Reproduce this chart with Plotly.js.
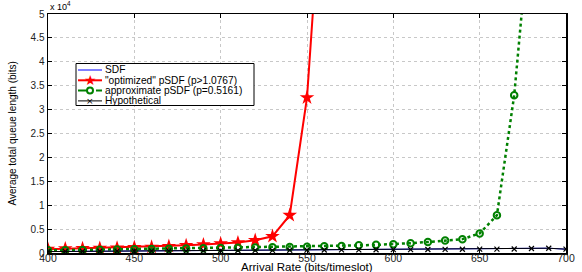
<!DOCTYPE html>
<html>
<head>
<meta charset="utf-8">
<script src="https://cdn.plot.ly/plotly-3.0.1.min.js"></script>
<style>html,body{margin:0;padding:0;background:#fff}#chart{width:582px;height:272px}</style>
</head>
<body>
<div id="chart"></div>
<script>
// Arrival rates (bits/timeslot)
const xOpt = [400,410,420,430,440,450,460,470,480,490,500,510,520,530,540,550,560];
const yOpt = [800,900,950,1000,1050,1150,1250,1400,1600,1760,1970,2180,2660,3500,7900,32500,85000];

const xApprox = [400,410,420,430,440,450,460,470,480,490,500,510,520,530,540,550,560,570,580,590,600,610,620,630,640,650,660,670,680];
const yApprox = [550,600,650,700,750,800,850,900,950,1000,1050,1100,1150,1200,1250,1300,1400,1470,1600,1700,1820,2050,2300,2600,2900,4100,7900,33000,72500];

const xHyp = [400,410,420,430,440,450,460,470,480,490,500,510,520,530,540,550,560,570,580,590,600,610,620,630,640,650,660,670,680,690,700];
const yHyp = [300,320,340,360,380,400,420,440,460,480,500,520,540,560,580,600,620,640,660,680,700,720,740,760,780,800,820,840,950,1000,800];

const xSDF = xHyp;
const ySDF = yHyp;

const seriesNames = ['SDF', '"optimized" pSDF (p&gt;1.0767)', 'approximate pSDF (p=0.5161)', 'Hypothetical'];
const seriesColors = ['#0000ff', '#ff0000', '#008000', '#000000'];

const yTickVals = [0,5000,10000,15000,20000,25000,30000,35000,40000,45000,50000];
const yTickText = ['0','0.5','1','1.5','2','2.5','3','3.5','4','4.5','5'];
const xTickVals = [400,450,500,550,600,650,700];

const traces = [
  {x:xSDF, y:ySDF, name:seriesNames[0], mode:'lines', line:{color:seriesColors[0], width:1}},
  {x:xOpt, y:yOpt, name:seriesNames[1], mode:'lines+markers',
   line:{color:seriesColors[1], width:2}, marker:{symbol:'star', size:11, color:seriesColors[1]}},
  {x:xApprox, y:yApprox, name:seriesNames[2], mode:'lines+markers',
   line:{color:seriesColors[2], width:2.5, dash:'3px,3px'},
   marker:{symbol:'circle-open', size:6.5, color:seriesColors[2], line:{width:2, color:seriesColors[2]}}},
  {x:xHyp, y:yHyp, name:seriesNames[3], mode:'lines+markers',
   line:{color:seriesColors[3], width:1},
   marker:{symbol:'x-thin-open', size:5, color:seriesColors[3], line:{width:1.2, color:seriesColors[3]}}}
];

const fam = '"Liberation Sans", Arial, Helvetica, sans-serif';

// plot-area geometry (pixels) for placing the hand-made legend
const M = {l:48, r:16, t:14, b:19};
const W = 582 - M.l - M.r, H = 272 - M.t - M.b;
const fx = px => (px - M.l) / W;
const fy = py => (M.t + H - py) / H;

// Legend (Plotly's own legend rows are too tall for this figure)
const legBox = {x0:76, x1:254, y0:63.5, y1:105.5};
const rowY = [70, 80.3, 90.6, 100.9];
const sampleX0 = 78, sampleX1 = 102, sampleMid = 90;
const dashes = ['solid', 'solid', 'dash', 'solid'];
const widths = [1, 2, 2, 1];

const shapes = [
  {type:'rect', xref:'paper', yref:'paper', x0:fx(legBox.x0), x1:fx(legBox.x1), y0:fy(legBox.y1), y1:fy(legBox.y0),
   line:{color:'#000', width:1}, fillcolor:'#fff', layer:'above'}
];
const annotations = [];
seriesNames.forEach((n, i) => {
  shapes.push({type:'line', xref:'paper', yref:'paper', x0:fx(sampleX0), x1:fx(sampleX1), y0:fy(rowY[i]), y1:fy(rowY[i]),
    line:{color:seriesColors[i], width:widths[i], dash:dashes[i]}, layer:'above'});
  annotations.push({xref:'paper', yref:'paper', x:fx(sampleX1 + 2), y:fy(rowY[i]), xanchor:'left', yanchor:'middle',
    text:n, showarrow:false, borderpad:0, font:{size:10.2, family:fam, color:'#000'}});
});
// legend marker glyphs
shapes.push({type:'circle', xref:'paper', yref:'paper', x0:fx(sampleMid - 3), x1:fx(sampleMid + 3), y0:fy(rowY[2] + 3), y1:fy(rowY[2] - 3),
  line:{color:seriesColors[2], width:2}, fillcolor:'#fff', layer:'above'});
annotations.push({xref:'paper', yref:'paper', x:fx(sampleMid), y:fy(rowY[1]), xanchor:'center', yanchor:'middle',
  text:'★', showarrow:false, borderpad:0, font:{size:14, family:'"DejaVu Sans", sans-serif', color:seriesColors[1]}});
annotations.push({xref:'paper', yref:'paper', x:fx(sampleMid), y:fy(rowY[3]), xanchor:'center', yanchor:'middle',
  text:'×', showarrow:false, borderpad:0, font:{size:9, family:'"DejaVu Sans", sans-serif', color:seriesColors[3]}});

annotations.push(
  {xref:'paper', yref:'paper', x:0.5, y:fy(266.5), xanchor:'center', yanchor:'middle',
   text:'Arrival Rate (bits/timeslot)', showarrow:false, font:{size:11.5, family:fam, color:'#000'}},
  {xref:'paper', yref:'paper', x:fx(12), y:0.5, xanchor:'center', yanchor:'middle', textangle:-90,
   text:'Average total queue length (bits)', showarrow:false, font:{size:10, family:fam, color:'#000'}},
  {xref:'x', yref:'paper', x:400, y:1, xanchor:'left', yanchor:'bottom',
   text:'x 10<sup>4</sup>', showarrow:false, font:{size:9, family:fam, color:'#000'}}
);

const layout = {
  width:582, height:272,
  margin:M,
  paper_bgcolor:'#fff', plot_bgcolor:'#fff',
  showlegend:false,
  font:{family:fam, color:'#000'},
  xaxis:{
    range:[400,700], tickvals:xTickVals, ticks:'inside', ticklen:4, tickcolor:'#000',
    showline:true, linecolor:'#000', linewidth:1.5, mirror:'ticks',
    showgrid:true, gridcolor:'#c8c8c8', griddash:'dot', gridwidth:1,
    zeroline:false, ticklabelstandoff:-5, tickfont:{size:10.5, family:fam, color:'#222'}
  },
  yaxis:{
    range:[0,50000], tickvals:yTickVals, ticktext:yTickText, ticks:'inside', ticklen:4, tickcolor:'#000',
    showline:true, linecolor:'#000', linewidth:1.5, mirror:'ticks',
    showgrid:true, gridcolor:'#c8c8c8', griddash:'dot', gridwidth:1,
    zeroline:false, tickfont:{size:10, family:fam, color:'#222'}
  },
  shapes:shapes,
  annotations:annotations
};

Plotly.newPlot('chart', traces, layout, {displayModeBar:false, staticPlot:true});
</script>
</body>
</html>
